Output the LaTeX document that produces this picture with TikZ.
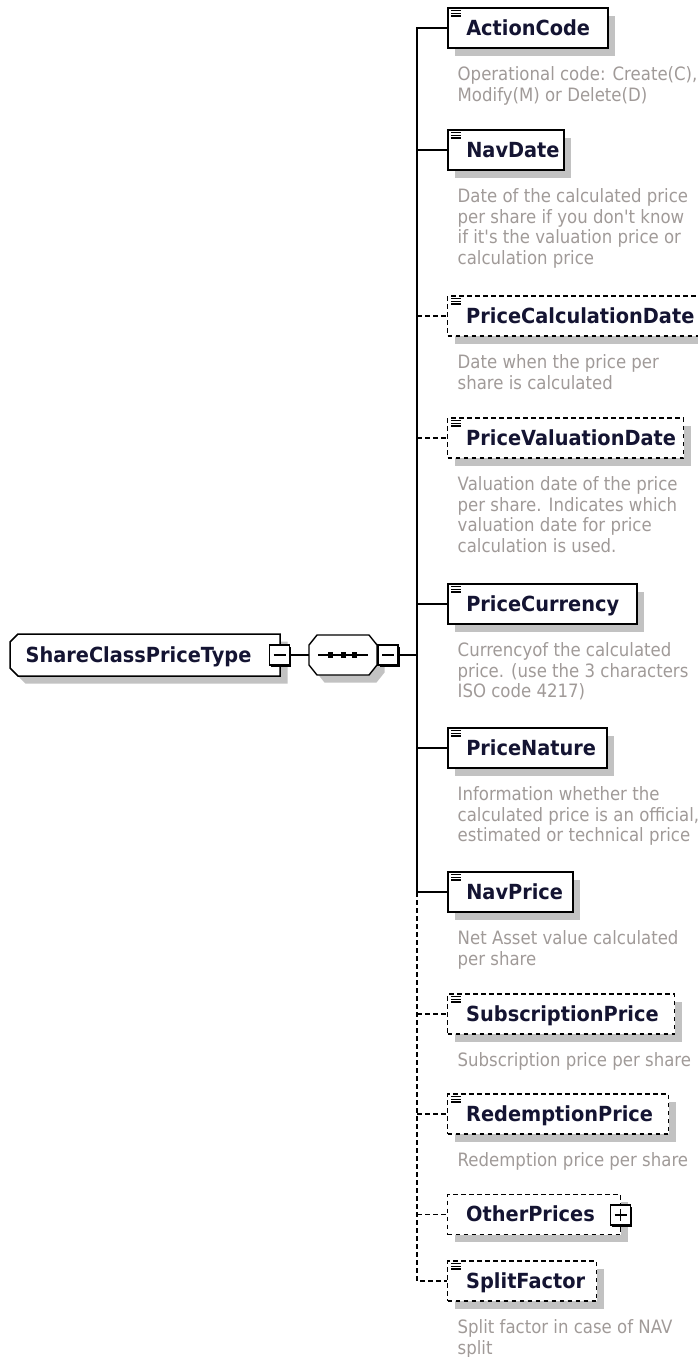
\documentclass[tikz,border=0pt]{standalone}
\usepackage{fontspec}
\usetikzlibrary{shadows,calc}
\newfontfamily\lblfont[FakeStretch=0.93]{DejaVu Sans}
\newfontfamily\dscfont[FakeStretch=0.9]{DejaVu Sans}
\definecolor{lblcol}{HTML}{141432}
\definecolor{dsccol}{HTML}{A09A98}
\definecolor{shdcol}{HTML}{C2C2C2}
\newcommand\lbltxt[2]{\makebox[\dimexpr#1pt-37pt\relax][l]{#2}}
\newcommand\fstrut{\rule{0pt}{15pt}}
\begin{document}
\begin{tikzpicture}[x=1pt,y=-1pt,
  conn/.style={line width=1.4pt, draw=black},
  optl/.style={dash pattern=on 4.5pt off 3.5pt},
  lblfnt/.style={font=\lblfont\bfseries\fontsize{20.8}{24}\selectfont, text=lblcol},
  elbox/.style={lblfnt, draw=black, line width=1.5pt, fill=white, anchor=west,
    minimum height=40pt, inner xsep=18.5pt, inner ysep=0pt, text height=15pt, text depth=1pt,
    drop shadow={shadow xshift=7.5pt, shadow yshift=-7.5pt, fill=shdcol, opacity=1, draw=none}},
  optbox/.style={elbox, line width=1.4pt, optl},
  dsc/.style={anchor=north west, inner sep=0pt, align=left,
    font=\dscfont\fontsize{18.4}{20.5}\selectfont, text=dsccol},
  pm/.style={draw=black, line width=1.2pt, fill=white, minimum width=20pt, minimum height=20pt,
    inner sep=0pt, drop shadow={shadow xshift=1.6pt, shadow yshift=-1.6pt, fill=black, opacity=1}},
  icon/.style={line width=1.1pt, draw=black}
]
\useasboundingbox (0,0) rectangle (698,1357);

% ---- main complex type box
\fill[shdcol] (25.5,641.5) -- (287.5,641.5) -- (287.5,683.5) -- (25.5,683.5) -- (17.5,675.5) -- (17.5,649.5) -- cycle;
\draw[line width=1.5pt, fill=white] (18,634) -- (280,634) -- (280,676) -- (18,676) -- (10,668) -- (10,642) -- cycle;
\node[lblfnt, inner sep=0pt, text height=15pt, text depth=1pt] (scpt) at (138.5,655) {ShareClassPriceType};
\node[pm] (m1) at (279.5,655) {};
\draw[line width=1.2pt] ($(m1.center)+(-6,0)$) -- ($(m1.center)+(6,0)$);

% ---- sequence compositor
\fill[shdcol] (324.5,642.5) -- (376.5,642.5) -- (384.5,652.5) -- (384.5,672.5) -- (376.5,682.5) -- (324.5,682.5) -- (316.5,672.5) -- (316.5,652.5) -- cycle;
\draw[line width=1.4pt, fill=white] (317,635) -- (369,635) -- (377,645) -- (377,665) -- (369,675) -- (317,675) -- (309,665) -- (309,645) -- cycle;
\node[minimum width=68pt, minimum height=40pt, inner sep=0pt] (seq) at (343,655) {};
\draw[line width=1.2pt] (318,655) -- (368,655);
\foreach \xx in {330.5,343.5,354.5} \fill ($(\xx,655)+(-2.6,-2.6)$) rectangle ++(5.2,5.2);
\node[pm] (m2) at (388,655) {};
\draw[line width=1.2pt] ($(m2.center)+(-6,0)$) -- ($(m2.center)+(6,0)$);
\coordinate (j) at (417,655);

% ---- child elements
\node[elbox, minimum width=160pt] (ac) at (447,28) {\lbltxt{160}{ActionCode}};
\node[elbox, minimum width=116pt] (nd) at (447,150) {\lbltxt{116}{NavDate}};
\node[optbox, minimum width=252pt] (pcd) at (447,316) {\lbltxt{252}{PriceCalculationDate}};
\node[optbox, minimum width=236pt] (pvd) at (447,438) {\lbltxt{236}{PriceValuationDate}};
\node[elbox, minimum width=189pt] (pc) at (447,604) {\lbltxt{189}{PriceCurrency}};
\node[elbox, minimum width=159pt] (pn) at (447,748) {\lbltxt{159}{PriceNature}};
\node[elbox, minimum width=125pt] (np) at (447,892) {\lbltxt{125}{NavPrice}};
\node[optbox, minimum width=227pt] (sp) at (447,1014) {\lbltxt{227}{SubscriptionPrice}};
\node[optbox, minimum width=221pt] (rp) at (447,1114) {\lbltxt{221}{RedemptionPrice}};
\node[optbox, minimum width=173pt] (op) at (447,1214.5) {\lbltxt{173}{OtherPrices}};
\node[optbox, minimum width=149pt] (sf) at (447,1281) {\lbltxt{149}{SplitFactor}};

\foreach \n in {ac,nd,pcd,pvd,pc,pn,np,sp,rp,sf} {
  \draw[icon] ($(\n.north west)+(4,3.5)$) -- ++(10,0);
  \draw[icon] ($(\n.north west)+(4,6.1)$) -- ++(10,0);
  \draw[icon] ($(\n.north west)+(4,8.7)$) -- ++(10,0);
}

\node[pm] (opp) at (620.5,1215) {};
\draw[line width=1.2pt] ($(opp.center)+(-6,0)$) -- ($(opp.center)+(6,0)$);
\draw[line width=1.2pt] ($(opp.center)+(0,-6)$) -- ($(opp.center)+(0,6)$);

% ---- descriptions
\node[dsc] (dac) at (457.5,65.5) {\fstrut Operational code: Create(C),\\Modify(M) or Delete(D)};
\node[dsc] (dnd) at (457.5,187.5) {\fstrut Date of the calculated price\\per share if you don't know\\if it's the valuation price or\\calculation price};
\node[dsc] (dpcd) at (457.5,353.5) {\fstrut Date when the price per\\share is calculated};
\node[dsc] (dpvd) at (457.5,475.5) {\fstrut Valuation date of the price\\per share. Indicates which\\valuation date for price\\calculation is used.};
\node[dsc] (dpc) at (457.5,641.5) {\fstrut Currencyof the calculated\\price. (use the 3 characters\\ISO code 4217)};
\node[dsc] (dpn) at (457.5,785.5) {\fstrut Information whether the\\calculated price is an official,\\estimated or technical price};
\node[dsc] (dnp) at (457.5,929.5) {\fstrut Net Asset value calculated\\per share};
\node[dsc] (dsp) at (457.5,1051.5) {\fstrut Subscription price per share};
\node[dsc] (drp) at (457.5,1151.5) {\fstrut Redemption price per share};
\node[dsc] (dsf) at (457.5,1318.5) {\fstrut Split factor in case of NAV\\split};

% ---- connectors
\draw[conn] (m1.east) -- (seq.west);
\draw[conn] (m2.east) -- (j);
\draw[conn] (ac.west) -| (j);
\draw[conn] (np.west) -| (j);
\draw[conn] (nd.west) -- (nd.west -| j);
\draw[conn] (pc.west) -- (pc.west -| j);
\draw[conn] (pn.west) -- (pn.west -| j);
\draw[conn, optl] (pcd.west -| j) -- (pcd.west);
\draw[conn, optl] (pvd.west -| j) -- (pvd.west);
\draw[conn, optl] (sp.west -| j) -- (sp.west);
\draw[conn, optl] (rp.west -| j) -- (rp.west);
\draw[conn, optl] (op.west -| j) -- (op.west);
\draw[conn, optl] (np.west -| j) |- (sf.west);
\end{tikzpicture}
\end{document}
